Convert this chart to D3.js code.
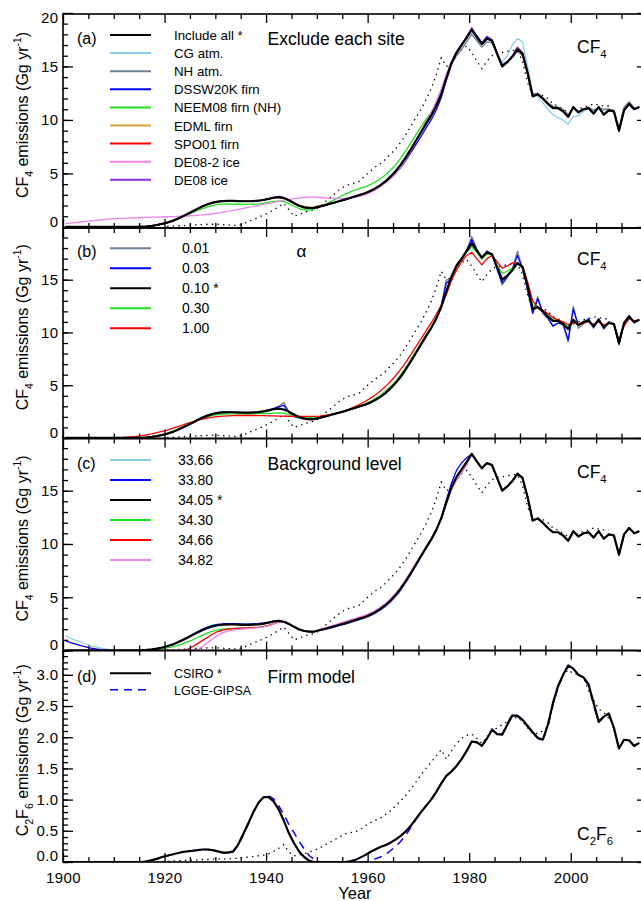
<!DOCTYPE html>
<html>
<head>
<meta charset="utf-8">
<script src="https://cdn.jsdelivr.net/npm/d3@7/dist/d3.min.js"></script>
<style>
  body { margin: 0; background: #fff; }
  svg { display: block; }
  svg text { font-family: "Liberation Sans", Arial, Helvetica, sans-serif; fill: #000; }
</style>
</head>
<body>
<svg id="chart" width="641" height="901"></svg>
<script>
// Years of the annual estimates (drawn at mid-year)
var years = d3.range(1900, 2014);

// ---- CF4 (a): exclude each site ----
var cf4IncludeAll = [
  0,0,0,0,0,0,0,0,0,0,
  0,0,0,0,0,0.02,0.05,0.1,0.18,0.28,
  0.4,0.55,0.75,0.97,1.2,1.45,1.7,1.93,2.12,2.27,
  2.37,2.42,2.44,2.44,2.42,2.4,2.4,2.42,2.45,2.52,
  2.62,2.73,2.78,2.7,2.5,2.22,1.98,1.83,1.77,1.78,
  1.9,2.02,2.15,2.28,2.42,2.55,2.7,2.85,3.0,3.15,
  3.35,3.6,3.9,4.25,4.7,5.2,5.8,6.5,7.25,8.05,
  8.85,9.65,10.4,11.3,12.4,13.9,15.3,16.3,17.0,17.7,
  18.45,17.75,17.1,17.6,17.4,16.2,15.0,15.4,15.9,16.6,
  16.2,14.4,12.2,12.4,12.0,11.5,11.1,11.1,10.8,10.3,
  11.2,10.7,11.0,11.1,10.6,11.2,10.5,10.9,10.8,9.0,
  10.9,11.5,11.0,11.2];
var cf4CgAtm = [
  0,0,0,0,0,0,0,0,0,0,
  0,0,0,0,0,0.02,0.05,0.1,0.18,0.28,
  0.4,0.55,0.75,0.97,1.2,1.45,1.7,1.93,2.12,2.27,
  2.37,2.42,2.44,2.44,2.42,2.4,2.4,2.42,2.45,2.52,
  2.62,2.73,2.78,2.7,2.5,2.22,1.98,1.83,1.77,1.78,
  1.9,2.02,2.15,2.28,2.42,2.55,2.7,2.85,3.0,3.15,
  3.35,3.6,3.9,4.25,4.7,5.2,5.8,6.5,7.25,8.05,
  8.85,9.65,10.4,11.3,12.4,13.9,15.3,16.3,17.0,17.6,
  18.2,17.6,17.0,17.5,17.4,16.0,15.4,16.0,17.0,17.6,
  17.3,15.0,12.6,12.2,11.6,11.0,10.5,10.2,10.0,9.6,
  10.3,10.4,10.8,11.1,10.9,11.0,10.9,11.0,10.9,9.1,
  11.0,11.6,11.0,11.2];
var cf4NhAtm = [
  0,0,0,0,0,0,0,0,0,0,
  0,0,0,0,0,0.02,0.05,0.1,0.18,0.28,
  0.4,0.55,0.75,0.97,1.2,1.45,1.7,1.93,2.12,2.27,
  2.37,2.42,2.44,2.44,2.42,2.4,2.4,2.42,2.45,2.52,
  2.62,2.73,2.78,2.7,2.5,2.22,1.98,1.83,1.77,1.78,
  1.9,2.02,2.15,2.28,2.42,2.55,2.7,2.85,3.0,3.15,
  3.35,3.6,3.9,4.25,4.7,5.2,5.8,6.5,7.25,8.05,
  8.85,9.65,10.5,11.5,12.6,14.0,15.2,16.0,16.6,17.3,
  18.0,17.4,16.8,17.3,17.2,16.2,15.2,15.5,16.0,16.4,
  16.0,14.3,12.3,12.5,12.1,11.6,11.3,11.2,11.0,10.5,
  11.1,10.8,11.0,11.2,10.9,11.1,11.0,11.0,10.9,9.2,
  11.2,11.7,11.1,11.2];
var cf4Dssw20k = [
  0,0,0,0,0,0,0,0,0,0,
  0,0,0,0,0,0.02,0.05,0.1,0.18,0.28,
  0.4,0.55,0.75,0.97,1.2,1.45,1.7,1.93,2.12,2.27,
  2.37,2.42,2.44,2.44,2.42,2.4,2.4,2.42,2.45,2.52,
  2.62,2.73,2.78,2.7,2.5,2.22,1.98,1.83,1.77,1.78,
  1.9,2.02,2.15,2.28,2.42,2.55,2.7,2.85,3.0,3.15,
  3.35,3.55,3.85,4.15,4.55,5.0,5.55,6.2,6.95,7.7,
  8.45,9.25,10.0,10.9,12.1,13.7,15.2,16.3,17.0,17.8,
  18.5,17.9,17.2,17.8,17.5,16.2,15.0,15.4,15.9,16.7,
  16.2,14.4,12.2,12.4,12.0,11.5,11.1,11.1,10.8,10.3,
  11.2,10.7,11.0,11.1,10.6,11.2,10.5,10.9,10.8,9.0,
  10.9,11.5,11.0,11.2];
var cf4Neem08 = [
  0,0,0,0,0,0,0,0,0,0,
  0,0,0,0,0,0.02,0.05,0.1,0.18,0.28,
  0.4,0.54,0.72,0.92,1.13,1.34,1.54,1.72,1.88,2.0,
  2.1,2.14,2.15,2.14,2.12,2.1,2.1,2.12,2.16,2.22,
  2.3,2.38,2.42,2.36,2.18,1.93,1.72,1.6,1.58,1.68,
  1.9,2.1,2.3,2.55,2.8,3.05,3.25,3.45,3.6,3.75,
  3.95,4.2,4.5,4.85,5.3,5.8,6.4,7.1,7.85,8.6,
  9.35,10.05,10.7,11.4,12.4,13.9,15.3,16.3,17.0,17.7,
  18.45,17.75,17.1,17.6,17.4,16.2,15.0,15.4,15.9,16.6,
  16.2,14.4,12.2,12.4,12.0,11.5,11.1,11.1,10.8,10.3,
  11.2,10.7,11.0,11.1,10.6,11.2,10.5,10.9,10.8,9.0,
  10.9,11.5,11.0,11.2];
var cf4Edml = [
  0,0,0,0,0,0,0,0,0,0,
  0,0,0,0,0,0.02,0.05,0.1,0.18,0.28,
  0.4,0.55,0.75,0.97,1.2,1.45,1.7,1.93,2.12,2.27,
  2.37,2.42,2.44,2.44,2.42,2.4,2.4,2.42,2.45,2.52,
  2.62,2.73,2.78,2.7,2.52,2.28,2.06,1.93,1.88,1.9,
  2.0,2.1,2.2,2.3,2.42,2.55,2.7,2.85,3.0,3.15,
  3.35,3.6,3.9,4.25,4.7,5.2,5.8,6.5,7.25,8.05,
  8.85,9.65,10.4,11.3,12.4,13.9,15.3,16.3,17.0,17.7,
  18.45,17.75,17.1,17.6,17.4,16.2,15.0,15.4,15.9,16.6,
  16.2,14.4,12.2,12.4,12.0,11.5,11.1,11.1,10.8,10.3,
  11.2,10.7,11.0,11.1,10.6,11.2,10.5,10.9,10.8,9.0,
  10.9,11.5,11.0,11.2];
var cf4Spo01 = [
  0,0,0,0,0,0,0,0,0,0,
  0,0,0,0,0,0.02,0.05,0.1,0.18,0.28,
  0.4,0.55,0.75,0.97,1.2,1.45,1.7,1.93,2.12,2.27,
  2.37,2.42,2.44,2.44,2.42,2.4,2.4,2.42,2.45,2.52,
  2.62,2.72,2.76,2.69,2.5,2.22,1.98,1.83,1.77,1.78,
  1.9,2.02,2.15,2.28,2.42,2.55,2.7,2.85,3.0,3.15,
  3.35,3.6,3.9,4.25,4.7,5.2,5.8,6.5,7.25,8.05,
  8.85,9.65,10.4,11.3,12.4,13.9,15.3,16.3,17.0,17.7,
  18.45,17.75,17.1,17.6,17.4,16.2,15.0,15.4,15.9,16.6,
  16.2,14.4,12.2,12.4,12.0,11.5,11.1,11.1,10.8,10.3,
  11.2,10.7,11.0,11.1,10.6,11.2,10.5,10.9,10.8,9.0,
  10.9,11.5,11.0,11.2];
var cf4De08Ice2 = [
  0.3,0.35,0.4,0.46,0.52,0.57,0.62,0.67,0.71,0.75,
  0.78,0.8,0.82,0.84,0.86,0.88,0.9,0.91,0.92,0.93,
  0.95,0.96,0.98,1.0,1.02,1.05,1.08,1.12,1.17,1.23,
  1.3,1.38,1.46,1.55,1.64,1.73,1.82,1.92,2.01,2.11,
  2.2,2.3,2.4,2.5,2.58,2.65,2.71,2.75,2.78,2.78,
  2.75,2.72,2.68,2.66,2.65,2.66,2.7,2.78,2.88,3.0,
  3.2,3.45,3.75,4.1,4.5,5.0,5.6,6.3,7.1,7.95,
  8.9,9.8,10.7,11.7,12.9,14.3,15.5,16.4,17.1,17.8,
  18.6,17.8,17.1,17.6,17.4,16.2,15.0,15.4,16.0,16.8,
  16.2,14.4,12.2,12.4,12.0,11.5,11.1,11.1,10.8,10.3,
  11.2,10.7,11.0,11.1,10.6,11.2,10.5,10.9,10.8,9.0,
  10.9,11.5,11.0,11.2];
var cf4De08Ice = [
  0,0,0,0,0,0,0,0,0,0,
  0,0,0,0,0,0.02,0.05,0.1,0.18,0.28,
  0.4,0.55,0.75,0.97,1.2,1.45,1.7,1.93,2.12,2.27,
  2.37,2.42,2.44,2.44,2.42,2.4,2.4,2.42,2.45,2.52,
  2.62,2.78,2.85,2.75,2.52,2.22,1.98,1.83,1.77,1.78,
  1.9,2.02,2.15,2.28,2.42,2.55,2.7,2.85,3.0,3.15,
  3.35,3.6,3.9,4.25,4.7,5.2,5.8,6.5,7.25,8.05,
  8.85,9.65,10.4,11.3,12.4,13.9,15.3,16.3,17.0,17.7,
  18.6,17.75,17.1,17.7,17.4,16.2,15.0,15.4,16.0,16.8,
  16.3,14.4,12.4,12.4,12.0,11.5,11.1,11.1,10.8,10.3,
  11.2,10.7,11.0,11.1,10.6,11.2,10.5,10.9,10.8,9.0,
  10.9,11.5,11.0,11.2];

// dotted reference emissions for CF4 (same in a, b, c)
var cf4Inventory = [
  null,null,null,null,null,null,null,null,null,null,
  null,null,null,null,null,null,null,null,null,null,
  0.05,0.08,0.1,0.12,0.15,0.18,0.2,0.22,0.25,0.25,
  0.25,0.22,0.18,0.15,0.15,0.3,0.5,0.7,0.9,1.1,
  1.35,1.6,1.9,2.2,1.6,1.0,1.15,1.35,1.5,1.6,
  1.85,2.3,2.7,3.1,3.5,3.8,4.0,4.1,4.3,4.8,
  5.2,5.6,5.9,6.3,6.8,7.3,7.9,8.6,9.4,10.2,
  11.0,11.9,12.9,14.2,15.8,15.0,15.2,16.0,16.6,16.9,
  16.3,15.5,14.8,15.5,16.0,16.3,16.3,16.4,16.5,16.5,
  15.5,13.5,12.3,12.4,12.3,12.0,11.5,11.3,11.0,10.7,
  10.8,11.0,11.2,11.3,11.5,11.4,11.3,11.3,null,null,
  null,null,null,null];

// ---- CF4 (b): alpha ----
var cf4Alpha001 = [
  0,0,0,0,0,0,0,0,0,0,
  0,0,0,0,0,0.02,0.05,0.1,0.18,0.28,
  0.4,0.55,0.75,0.97,1.2,1.45,1.72,1.97,2.18,2.33,
  2.42,2.45,2.45,2.42,2.4,2.38,2.38,2.4,2.45,2.55,
  2.65,2.8,3.0,3.35,2.4,2.0,1.9,1.85,1.8,1.8,
  1.9,2.02,2.15,2.28,2.42,2.55,2.7,2.85,3.0,3.15,
  3.35,3.6,3.9,4.25,4.7,5.2,5.8,6.5,7.25,8.05,
  8.85,9.65,10.4,11.3,12.6,15.0,14.9,16.4,17.0,17.8,
  19.1,17.9,17.0,17.7,17.4,16.0,14.5,15.2,16.0,17.7,
  16.1,14.0,11.9,13.4,11.8,11.3,10.6,10.9,10.7,9.1,
  12.5,10.4,10.8,11.3,10.4,11.3,10.3,11.0,10.8,8.8,
  10.9,11.6,10.9,11.2];
var cf4Alpha003 = [
  0,0,0,0,0,0,0,0,0,0,
  0,0,0,0,0,0.02,0.05,0.1,0.18,0.28,
  0.4,0.55,0.75,0.97,1.2,1.45,1.71,1.95,2.15,2.3,
  2.4,2.44,2.45,2.43,2.4,2.39,2.39,2.41,2.45,2.54,
  2.65,2.78,2.95,3.1,2.45,2.05,1.93,1.85,1.8,1.8,
  1.9,2.02,2.15,2.28,2.42,2.55,2.7,2.85,3.0,3.15,
  3.35,3.6,3.9,4.25,4.7,5.2,5.8,6.5,7.25,8.05,
  8.85,9.65,10.4,11.3,12.5,14.7,15.0,16.4,17.0,17.8,
  18.8,17.85,17.05,17.7,17.4,16.0,14.7,15.3,16.0,17.3,
  16.1,14.1,11.8,13.2,11.9,11.4,10.6,10.9,10.8,9.3,
  12.2,10.7,10.9,11.3,10.5,11.3,10.4,11.0,10.8,8.9,
  10.9,11.6,10.9,11.2];
var cf4Alpha030 = [
  0,0,0,0,0,0,0,0,0,0,
  0,0,0,0,0.01,0.04,0.08,0.14,0.22,0.33,
  0.46,0.62,0.82,1.03,1.25,1.47,1.68,1.87,2.02,2.14,
  2.22,2.26,2.28,2.28,2.28,2.28,2.28,2.29,2.3,2.32,
  2.34,2.36,2.37,2.33,2.24,2.12,2.02,1.96,1.93,1.93,
  1.98,2.06,2.17,2.3,2.44,2.58,2.73,2.9,3.07,3.25,
  3.47,3.73,4.05,4.42,4.87,5.38,5.98,6.67,7.43,8.22,
  9.0,9.78,10.52,11.38,12.45,13.8,15.15,16.2,16.95,17.6,
  18.1,17.6,16.95,17.45,17.35,16.35,15.6,15.8,16.1,16.5,
  16.2,14.6,12.6,12.4,12.0,11.6,11.2,11.1,10.9,10.5,
  11.1,10.75,10.9,11.15,10.7,11.1,10.6,10.9,10.85,9.2,
  10.8,11.4,11.05,11.2];
var cf4Alpha100 = [
  0,0,0,0,0,0,0,0,0,0,
  0.02,0.04,0.07,0.11,0.16,0.22,0.3,0.39,0.5,0.62,
  0.75,0.9,1.06,1.22,1.38,1.53,1.67,1.79,1.89,1.97,
  2.03,2.07,2.1,2.12,2.13,2.13,2.13,2.13,2.12,2.11,
  2.1,2.09,2.08,2.07,2.06,2.05,2.04,2.04,2.04,2.05,
  2.08,2.13,2.2,2.3,2.43,2.58,2.76,2.97,3.2,3.46,
  3.75,4.08,4.45,4.87,5.35,5.9,6.5,7.17,7.9,8.65,
  9.4,10.15,10.9,11.7,12.6,13.6,14.9,15.9,16.7,17.3,
  17.6,17.0,16.4,17.0,17.3,16.7,16.1,16.3,16.6,16.5,
  16.3,14.8,13.0,12.4,12.1,11.8,11.4,11.2,11.0,10.75,
  10.95,10.8,10.85,11.05,10.75,11.0,10.7,10.9,10.75,9.3,
  10.6,11.3,11.1,11.2];

// ---- CF4 (c): background level ----
var cf4Bg3366 = [
  1.35,1.15,0.96,0.78,0.61,0.46,0.33,0.22,0.13,0.06,
  0.02,0,0,0,0,0.02,0.05,0.1,0.18,0.28,
  0.4,0.56,0.77,1.0,1.24,1.5,1.76,2.0,2.2,2.35,
  2.45,2.5,2.52,2.52,2.5,2.48,2.48,2.5,2.53,2.58,
  2.65,2.73,2.78,2.7,2.5,2.22,1.98,1.83,1.77,1.78,
  1.9,2.02,2.15,2.28,2.42,2.55,2.7,2.85,3.0,3.15,
  3.35,3.6,3.9,4.25,4.7,5.2,5.8,6.5,7.25,8.05,
  8.85,9.65,10.4,11.3,12.4,13.9,15.3,16.3,17.0,17.7,
  18.45,17.75,17.1,17.6,17.4,16.2,15.0,15.4,15.9,16.6,
  16.2,14.4,12.2,12.4,12.0,11.5,11.1,11.1,10.8,10.3,
  11.2,10.7,11.0,11.1,10.6,11.2,10.5,10.9,10.8,9.0,
  10.9,11.5,11.0,11.2];
var cf4Bg3380 = [
  0.9,0.75,0.6,0.46,0.34,0.23,0.14,0.08,0.04,0.01,
  0,0,0,0,0,0.02,0.05,0.1,0.18,0.28,
  0.4,0.56,0.77,1.0,1.24,1.5,1.76,2.0,2.2,2.35,
  2.45,2.5,2.52,2.52,2.5,2.48,2.48,2.5,2.53,2.58,
  2.65,2.73,2.78,2.7,2.5,2.22,1.98,1.83,1.77,1.78,
  1.88,1.98,2.1,2.22,2.35,2.48,2.62,2.77,2.92,3.08,
  3.27,3.5,3.8,4.15,4.58,5.08,5.68,6.4,7.17,7.98,
  8.8,9.6,10.4,11.3,12.5,14.1,15.7,16.9,17.6,18.1,
  18.45,17.75,17.1,17.6,17.4,16.2,15.0,15.4,15.9,16.6,
  16.2,14.4,12.2,12.4,12.0,11.5,11.1,11.1,10.8,10.3,
  11.2,10.7,11.0,11.1,10.6,11.2,10.5,10.9,10.8,9.0,
  10.9,11.5,11.0,11.2];
var cf4Bg3430 = [
  0,0,0,0,0,0,0,0,0,0,
  0,0,0,0,0,0,0.02,0.05,0.1,0.16,
  0.24,0.34,0.47,0.62,0.8,1.0,1.22,1.45,1.65,1.82,
  1.93,2.0,2.04,2.07,2.09,2.11,2.13,2.16,2.2,2.27,
  2.36,2.5,2.7,2.68,2.5,2.22,1.98,1.83,1.77,1.78,
  1.92,2.05,2.18,2.31,2.45,2.58,2.73,2.88,3.03,3.18,
  3.35,3.6,3.9,4.25,4.7,5.2,5.8,6.5,7.25,8.05,
  8.85,9.65,10.4,11.3,12.4,13.8,15.1,16.0,16.7,17.4,
  18.45,17.75,17.1,17.6,17.4,16.2,15.0,15.4,15.9,16.6,
  16.2,14.4,12.2,12.4,12.0,11.5,11.1,11.1,10.8,10.3,
  11.2,10.7,11.0,11.1,10.6,11.2,10.5,10.9,10.8,9.0,
  10.9,11.5,11.0,11.2];
var cf4Bg3466 = [
  0,0,0,0,0,0,0,0,0,0,
  0,0,0,0,0,0,0,0,0,0,
  0,0,0,0,0.1,0.35,0.65,0.95,1.25,1.55,
  1.78,1.92,2.0,2.04,2.07,2.09,2.11,2.14,2.18,2.25,
  2.35,2.5,2.7,2.68,2.5,2.22,1.98,1.83,1.77,1.78,
  1.95,2.08,2.22,2.36,2.5,2.64,2.8,2.95,3.1,3.26,
  3.46,3.71,4.0,4.35,4.8,5.3,5.9,6.6,7.35,8.15,
  8.9,9.7,10.45,11.3,12.4,13.85,15.2,16.1,16.8,17.5,
  18.45,17.75,17.1,17.6,17.4,16.2,15.0,15.4,15.9,16.6,
  16.2,14.4,12.2,12.4,12.0,11.5,11.1,11.1,10.8,10.3,
  11.2,10.7,11.0,11.1,10.6,11.2,10.5,10.9,10.8,9.0,
  10.9,11.5,11.0,11.2];
var cf4Bg3482 = [
  0,0,0,0,0,0,0,0,0,0,
  0,0,0,0,0,0,0,0,0,0,
  0,0,0,0,0,0,0.1,0.4,0.75,1.1,
  1.45,1.68,1.82,1.92,1.98,2.02,2.06,2.1,2.15,2.22,
  2.32,2.47,2.67,2.67,2.5,2.22,1.98,1.83,1.77,1.78,
  1.97,2.1,2.25,2.4,2.55,2.7,2.85,3.0,3.15,3.3,
  3.5,3.75,4.05,4.4,4.85,5.35,5.95,6.65,7.4,8.2,
  8.95,9.75,10.5,11.35,12.4,13.8,15.1,16.0,16.7,17.4,
  18.45,17.75,17.1,17.6,17.4,16.2,15.0,15.4,15.9,16.6,
  16.2,14.4,12.2,12.4,12.0,11.5,11.1,11.1,10.8,10.3,
  11.2,10.7,11.0,11.1,10.6,11.2,10.5,10.9,10.8,9.0,
  10.9,11.5,11.0,11.2];

// ---- C2F6 (d): firn model ----
var c2f6Csiro = [
  0,0,0,0,0,0,0,0,0,0,
  0,0,0,0,0,0,0.01,0.03,0.05,0.08,
  0.1,0.12,0.14,0.16,0.17,0.18,0.19,0.2,0.2,0.19,
  0.17,0.15,0.15,0.17,0.28,0.45,0.62,0.8,0.95,1.04,
  1.04,0.97,0.84,0.66,0.46,0.3,0.17,0.08,0.02,0,
  0,0,0,0,0,0,0.01,0.03,0.07,0.11,
  0.16,0.2,0.24,0.27,0.31,0.36,0.42,0.49,0.58,0.69,
  0.8,0.9,1.0,1.12,1.26,1.38,1.45,1.54,1.65,1.78,
  1.93,1.92,1.86,1.98,2.12,2.05,2.04,2.2,2.35,2.34,
  2.28,2.18,2.08,1.99,1.96,2.2,2.55,2.82,3.0,3.15,
  3.1,3.0,2.96,2.85,2.55,2.25,2.33,2.38,2.15,1.82,
  1.96,1.95,1.86,1.91];
var c2f6Lgge = [
  0,0,0,0,0,0,0,0,0,0,
  0,0,0,0,0,0,0.01,0.03,0.05,0.08,
  0.1,0.12,0.14,0.16,0.17,0.18,0.19,0.2,0.2,0.19,
  0.17,0.15,0.14,0.16,0.26,0.43,0.61,0.8,0.95,1.04,
  1.06,1.01,0.9,0.76,0.6,0.47,0.33,0.21,0.1,0.04,
  0.01,0,0,0,0,0,0,0,0,0,
  0.02,0.05,0.08,0.12,0.18,0.25,0.33,0.43,0.55,0.68,
  0.79,0.9,1.0,1.12,1.26,1.38,1.45,1.54,1.65,1.78,
  1.93,1.91,1.86,1.98,2.13,2.05,2.05,2.22,2.37,2.35,
  2.27,2.17,2.07,1.98,1.95,2.18,2.53,2.8,3.0,3.14,
  3.1,3.0,2.95,2.83,2.52,2.24,2.32,2.37,2.14,1.82,
  1.96,1.95,1.86,1.91];
var c2f6Inventory = [
  null,null,null,null,null,null,null,null,null,null,
  null,null,null,null,null,null,null,null,0,0.005,
  0.01,0.015,0.02,0.025,0.03,0.03,0.035,0.04,0.04,0.045,
  0.05,0.05,0.05,0.055,0.06,0.07,0.08,0.09,0.1,0.11,
  0.13,0.17,0.22,0.28,0.16,0.1,0.11,0.13,0.16,0.19,
  0.22,0.27,0.31,0.36,0.4,0.45,0.47,0.48,0.52,0.58,
  0.63,0.67,0.7,0.76,0.82,0.9,0.98,1.07,1.17,1.28,
  1.4,1.5,1.6,1.7,1.8,1.65,1.78,1.9,1.98,2.03,
  2.05,1.98,1.9,2.0,2.1,2.15,2.2,2.25,2.3,2.32,
  2.25,2.15,2.06,2.06,2.1,2.17,2.5,2.8,3.0,3.08,
  3.02,3.0,2.95,2.75,2.6,2.45,2.4,2.3,null,null,
  null,null,null,null];

// axis tick values
var yearLabels = [1900, 1920, 1940, 1960, 1980, 2000];
var cf4Ticks = [0, 5, 10, 15, 20];
var c2f6Ticks = [0, 0.5, 1, 1.5, 2, 2.5, 3];

// ---------------------------------------------------------------
var svg = d3.select("#chart");
var left = 63, right = 646.9;

var x = d3.scaleLinear()
    .domain([1900, 2015])
    .range([left, right]);

var dotted = { values: null, color: "#000", width: 1.3, dash: "1.4,4.2" };

var panels = [{
    key: "a", top: 14, bottom: 228, domain: [-0.1, 19.9],
    ticks: cf4Ticks, minorStep: 1, fmt: d3.format("d"),
    gas: [["C", "F"], ["4"]], label: [["CF"], ["4"]],
    title: "Exclude each site", gasY: 53,
    legend: { y0: 35, dy: 18.1, textX: 174, size: 13.3 },
    inventory: cf4Inventory,
    series: [
        { name: "Include all *", values: cf4IncludeAll, color: "#000", width: 2.2, star: true },
        { name: "CG atm.", values: cf4CgAtm, color: "#87ceeb" },
        { name: "NH atm.", values: cf4NhAtm, color: "#708090" },
        { name: "DSSW20K firn", values: cf4Dssw20k, color: "#0000ff" },
        { name: "NEEM08 firn (NH)", values: cf4Neem08, color: "#1fe01f" },
        { name: "EDML firn", values: cf4Edml, color: "#daa03c" },
        { name: "SPO01 firn", values: cf4Spo01, color: "#ff0000" },
        { name: "DE08-2 ice", values: cf4De08Ice2, color: "#ee82ee" },
        { name: "DE08 ice", values: cf4De08Ice, color: "#8a2be2" }
    ]
}, {
    key: "b", top: 228, bottom: 438.5, domain: [-0.05, 19.9],
    ticks: cf4Ticks.slice(0, 4), minorStep: 1, fmt: d3.format("d"),
    label: [["CF"], ["4"]], gasY: 265,
    alpha: true,
    legend: { y0: 248.3, dy: 20, textX: 182, size: 14 },
    inventory: cf4Inventory,
    series: [
        { name: "0.01", values: cf4Alpha001, color: "#6f7f95" },
        { name: "0.03", values: cf4Alpha003, color: "#0000ff" },
        { name: "0.10 *", values: cf4IncludeAll, color: "#000", width: 2.2, star: true },
        { name: "0.30", values: cf4Alpha030, color: "#1fe01f" },
        { name: "1.00", values: cf4Alpha100, color: "#ff0000" }
    ]
}, {
    key: "c", top: 438.5, bottom: 650.5, domain: [0, 19.9],
    ticks: cf4Ticks.slice(0, 4), minorStep: 1, fmt: d3.format("d"),
    label: [["CF"], ["4"]], gasY: 478,
    title: "Background level",
    legend: { y0: 460, dy: 20, textX: 178, size: 14 },
    inventory: cf4Inventory,
    series: [
        { name: "33.66", values: cf4Bg3366, color: "#87ceeb" },
        { name: "33.80", values: cf4Bg3380, color: "#0000ff" },
        { name: "34.05 *", values: cf4IncludeAll, color: "#000", width: 2.2, star: true },
        { name: "34.30", values: cf4Bg3430, color: "#1fe01f" },
        { name: "34.66", values: cf4Bg3466, color: "#ff0000" },
        { name: "34.82", values: cf4Bg3482, color: "#ee82ee" }
    ]
}, {
    key: "d", top: 650.5, bottom: 862, domain: [0, 3.39],
    ticks: c2f6Ticks, minorStep: 0.1, fmt: d3.format(".1f"),
    label: [["C"], ["2"], ["F"], ["6"]], gasY: 840, c2f6: true,
    title: "Firm model",
    legend: { y0: 673.3, dy: 16.5, textX: 174, size: 12.5 },
    inventory: c2f6Inventory,
    xLabels: true,
    series: [
        { name: "CSIRO *", values: c2f6Csiro, color: "#000", width: 2.2, star: true },
        { name: "LGGE-GIPSA", values: c2f6Lgge, color: "#0000ff", width: 1.5, dash: "8,6" }
    ]
}];

// text with sub/superscript pieces: parts = [[text, "sub"|"sup"|undefined], ...]
function richText(sel, parts, size) {
    var shift = 0;
    parts.forEach(function (p) {
        var target = p[1] === "sub" ? size * 0.3 : (p[1] === "sup" ? -size * 0.42 : 0);
        sel.append("tspan")
            .attr("dy", target - shift)
            .attr("font-size", p[1] ? size * 0.65 : size)
            .text(p[0]);
        shift = target;
    });
}

var minorYears = d3.range(1900, 2016, 5).filter(function (d) { return d % 20 !== 0; });

panels.forEach(function (p) {
    var y = d3.scaleLinear().domain(p.domain).range([p.bottom, p.top]);
    var g = svg.append("g").attr("class", "panel-" + p.key);

    var clipId = "clip-" + p.key;
    svg.append("clipPath").attr("id", clipId)
        .append("rect")
        .attr("x", left).attr("y", p.top)
        .attr("width", right - left).attr("height", p.bottom - p.top);

    var line = d3.line()
        .defined(function (d) { return d !== null; })
        .x(function (d, i) { return x(years[i] + 0.5); })
        .y(function (d) { return y(d); });

    var plot = g.append("g").attr("clip-path", "url(#" + clipId + ")");

    // dotted reference inventory
    plot.append("path")
        .attr("d", line(p.inventory))
        .attr("fill", "none")
        .attr("stroke", dotted.color)
        .attr("stroke-width", dotted.width)
        .attr("stroke-dasharray", dotted.dash);

    // sensitivity runs first, the starred case on top
    var order = p.series.filter(function (s) { return !s.star; })
        .concat(p.series.filter(function (s) { return s.star; }));
    plot.selectAll("path.run")
        .data(order)
        .enter().append("path")
        .attr("class", "run")
        .attr("d", function (s) { return line(s.values); })
        .attr("fill", "none")
        .attr("stroke", function (s) { return s.color; })
        .attr("stroke-width", function (s) { return s.width || 1.3; })
        .attr("stroke-dasharray", function (s) { return s.dash || null; })
        .attr("stroke-linejoin", "round");

    // frame
    g.append("rect")
        .attr("x", left).attr("y", p.top)
        .attr("width", right - left).attr("height", p.bottom - p.top)
        .attr("fill", "none").attr("stroke", "#000").attr("stroke-width", 1.6);

    // y axes
    var minorY = d3.range(Math.ceil(p.domain[0] / p.minorStep), Math.floor(p.domain[1] / p.minorStep) + 1)
        .map(function (k) { return +(k * p.minorStep).toFixed(2); });

    var yAxis = g.append("g")
        .attr("transform", "translate(" + left + ",0)")
        .call(d3.axisLeft(y).tickValues(p.ticks).tickFormat(p.fmt)
            .tickSize(-10).tickSizeOuter(0).tickPadding(4.5));
    g.append("g")
        .attr("transform", "translate(" + left + ",0)")
        .call(d3.axisLeft(y).tickValues(minorY).tickFormat("").tickSize(-5).tickSizeOuter(0));
    g.append("g")
        .attr("transform", "translate(" + right + ",0)")
        .call(d3.axisRight(y).tickValues(p.ticks).tickFormat("").tickSize(-10).tickSizeOuter(0));
    g.append("g")
        .attr("transform", "translate(" + right + ",0)")
        .call(d3.axisRight(y).tickValues(minorY).tickFormat("").tickSize(-5).tickSizeOuter(0));

    yAxis.selectAll("text")
        .attr("font-size", 15)
        .attr("letter-spacing", 0.4)
        .attr("y", function (d) {
            var ty = y(d);
            var cy = Math.max(p.top + 3.5, Math.min(p.bottom - 6, ty));
            return cy - ty;
        });

    // x axes (top and bottom of every panel)
    g.append("g")
        .attr("transform", "translate(0," + p.top + ")")
        .call(d3.axisTop(x).tickValues(yearLabels).tickFormat("").tickSize(-9).tickSizeOuter(0));
    g.append("g")
        .attr("transform", "translate(0," + p.top + ")")
        .call(d3.axisTop(x).tickValues(minorYears).tickFormat("").tickSize(-5).tickSizeOuter(0));
    var xAxis = g.append("g")
        .attr("transform", "translate(0," + p.bottom + ")")
        .call(d3.axisBottom(x).tickValues(yearLabels)
            .tickFormat(p.xLabels ? d3.format("d") : "")
            .tickSize(-9).tickSizeOuter(0).tickPadding(10));
    g.append("g")
        .attr("transform", "translate(0," + p.bottom + ")")
        .call(d3.axisBottom(x).tickValues(minorYears).tickFormat("").tickSize(-5).tickSizeOuter(0));
    xAxis.selectAll("text").attr("font-size", 15).attr("letter-spacing", 0.4);

    g.selectAll(".domain").remove();
    g.selectAll(".tick line").attr("stroke", "#000").attr("stroke-width", 1.3);
    g.selectAll("g").attr("font-family", null).attr("font-size", null);

    // y label
    var midY = (p.top + p.bottom) / 2 - 6;
    var lab = g.append("text")
        .attr("transform", "translate(28," + midY + ") rotate(-90)")
        .attr("text-anchor", "middle");
    var parts = p.c2f6
        ? [["C"], ["2", "sub"], ["F"], ["6", "sub"], [" emissions (Gg yr"], ["-1", "sup"], [")"]]
        : [["CF"], ["4", "sub"], [" emissions (Gg yr"], ["-1", "sup"], [")"]];
    richText(lab, parts, 16);

    // panel letter
    g.append("text")
        .attr("x", 77).attr("y", p.legend.y0 + 8.5)
        .attr("font-size", 16)
        .text("(" + p.key + ")");

    // title
    if (p.title) {
        g.append("text")
            .attr("x", 267.5).attr("y", p.legend.y0 + 10)
            .attr("font-size", 17.5)
            .text(p.title);
    }
    if (p.alpha) {
        g.append("text")
            .attr("x", 296.5).attr("y", 256.5)
            .attr("font-size", 17)
            .text("\u03b1");
    }

    // gas name at right
    var gas = g.append("text").attr("x", 577).attr("y", p.gasY);
    richText(gas, p.c2f6
        ? [["C"], ["2", "sub"], ["F"], ["6", "sub"]]
        : [["CF"], ["4", "sub"]], 17.5);

    // legend
    var leg = g.append("g");
    p.series.forEach(function (s, i) {
        var ly = p.legend.y0 + i * p.legend.dy;
        leg.append("line")
            .attr("x1", 110).attr("x2", 151)
            .attr("y1", ly).attr("y2", ly)
            .attr("stroke", s.color)
            .attr("stroke-width", s.dash ? 1.5 : 2)
            .attr("stroke-dasharray", s.dash || null);
        leg.append("text")
            .attr("x", p.legend.textX).attr("y", ly + 5)
            .attr("font-size", p.legend.size)
            .text(s.name);
    });
});

// x axis title
svg.append("text")
    .attr("x", (left + right) / 2).attr("y", 899)
    .attr("text-anchor", "middle")
    .attr("font-size", 16.5)
    .text("Year");
</script>
</body>
</html>
